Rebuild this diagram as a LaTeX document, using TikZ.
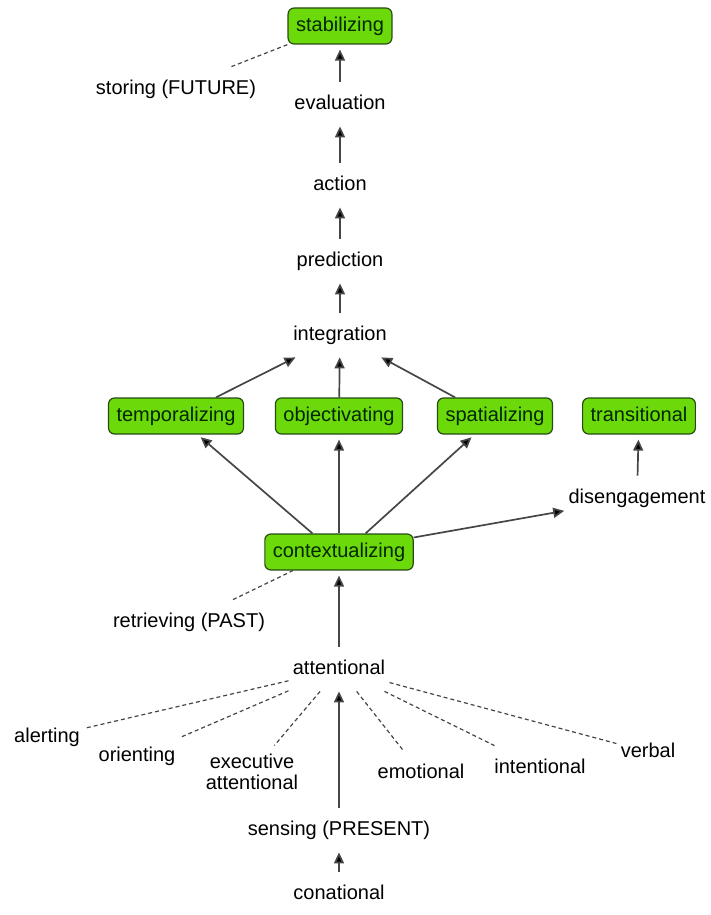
\documentclass[tikz,border=0pt]{standalone}
\usepackage{fontspec}
\setmainfont{Liberation Sans}
\usetikzlibrary{arrows.meta}
\definecolor{boxgreen}{RGB}{108,218,10}
\definecolor{boxline}{RGB}{40,75,20}
\definecolor{linegray}{RGB}{70,70,70}
\tikzset{
	lbl/.style={inner xsep=2pt, inner ysep=6.25pt, text height=7.5pt, text depth=2pt},
	gbox/.style={lbl, draw=boxline, fill=boxgreen, text=black!85!green, rounded corners=3pt, inner xsep=4pt, inner ysep=4.25pt, line width=0.6pt},
	flow/.style={draw=linegray, line width=0.85pt, -{Triangle[length=5.5pt,width=5pt,fill=black]}},
	tie/.style={draw=linegray, line width=0.6pt, dash pattern=on 2pt off 1.5pt}
}
\begin{document}
\begin{tikzpicture}[every node/.style={font=\fontsize{10}{11}\selectfont}, x=0.5pt, y=-0.5pt]
	\useasboundingbox (0,0) rectangle (711,915);
	% upper chain
	\node[gbox] (stab) at (340,26) {stabilizing};
	\node[lbl] (store) at (176,89) {storing (FUTURE)};
	\node[lbl] (eval) at (340,104) {evaluation};
	\node[lbl] (act) at (340,185) {action};
	\node[lbl] (pred) at (340,261) {prediction};
	\node[lbl] (integ) at (340,335) {integration};
	% middle row
	\node[gbox] (temp) at (176,416) {temporalizing};
	\node[gbox] (obj) at (339,416) {objectivating};
	\node[gbox] (spat) at (495,416) {spatializing};
	\node[gbox] (trans) at (639,416) {transitional};
	\node[lbl] (diseng) at (637,498) {disengagement};
	\node[gbox] (ctx) at (339,552) {contextualizing};
	\node[lbl] (retr) at (189,622) {retrieving (PAST)};
	% lower part
	\node[lbl] (att) at (339,669) {attentional};
	\node[lbl] (alert) at (47,737) {alerting};
	\node[lbl] (orient) at (137,756) {orienting};
	\node[inner xsep=2pt, inner ysep=4pt, align=center, font=\fontsize{10}{10.8}\selectfont] (exec) at (252,772) {executive\\attentional};
	\node[lbl] (emo) at (421,773) {emotional};
	\node[lbl] (intent) at (540,768) {intentional};
	\node[lbl] (verb) at (648,752) {verbal};
	\node[lbl] (sens) at (339,830) {sensing (PRESENT)};
	\node[lbl] (conat) at (339,894) {conational};
	% arrows
	\foreach \a/\b in {act/eval, pred/act, integ/pred, sens/att, conat/sens} {\draw[flow] (\a) -- (\b);}
	\foreach \a/\b in {eval/stab, diseng/trans, att/ctx, ctx/obj} {\draw[flow, shorten >=2.5pt] (\a) -- (\b);}
	\draw[flow] (obj) -- (integ);
	\draw[flow] (temp.25) -- (integ);
	\draw[flow] (spat.155) -- (integ);
	\draw[flow, shorten >=2pt] (ctx.145) -- (temp);
	\draw[flow, shorten >=2pt] (ctx.35) -- (spat);
	\draw[flow] (ctx.11) -- (diseng);
	% dashed ties
	\draw[tie] (store.22) -- (stab.south west);
	\draw[tie] (retr.27) -- (ctx.202);
	\foreach \n in {alert, orient, exec, emo, intent, verb} {\draw[tie] (att) -- (\n);}
\end{tikzpicture}
\end{document}
